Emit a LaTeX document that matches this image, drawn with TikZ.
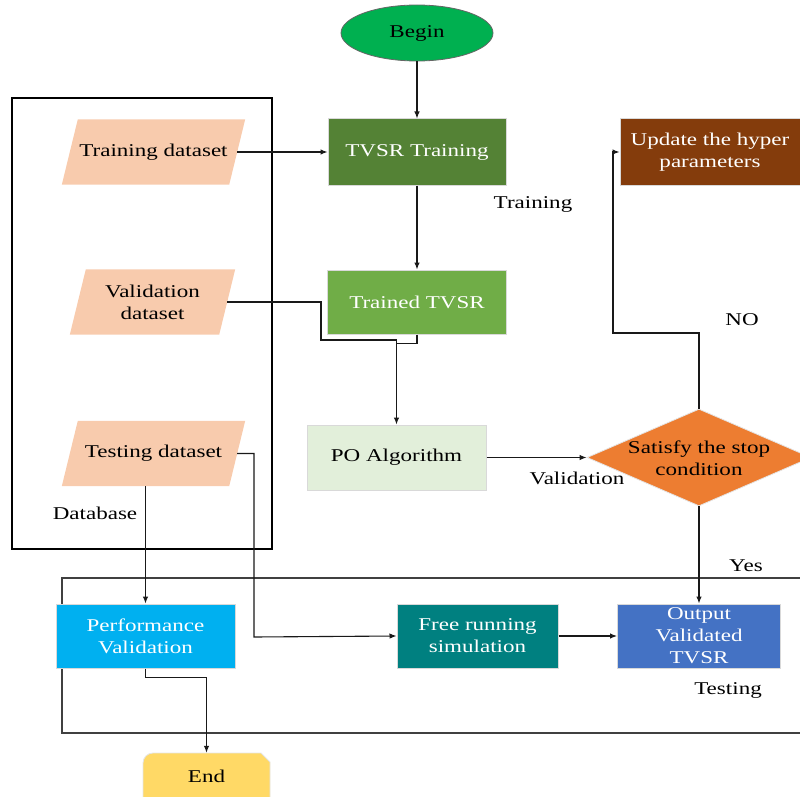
\documentclass[tikz,border=0pt]{standalone}
\usepackage{fontspec}
\setmainfont{Liberation Serif}[FakeStretch=1.28]
\usetikzlibrary{arrows.meta,shapes.geometric}
\definecolor{dkgreen}{HTML}{548235}
\definecolor{mgreen}{HTML}{70AD47}
\definecolor{lgreen}{HTML}{E2EFDA}
\definecolor{brownc}{HTML}{843C0C}
\definecolor{orangec}{HTML}{ED7D31}
\definecolor{peach}{HTML}{F8CBAD}
\definecolor{skyc}{HTML}{00B0F0}
\definecolor{tealc}{HTML}{008080}
\definecolor{bluec}{HTML}{4472C4}
\definecolor{yellowc}{HTML}{FFD966}
\definecolor{beginc}{HTML}{00B050}
\begin{document}
\begin{tikzpicture}[x=1pt,y=-1pt,
  font=\fontsize{18}{22}\selectfont,
  box/.style={rectangle, draw=black!15, line width=1pt, align=center, inner sep=0pt},
  dat/.style={rectangle, align=center, inner sep=0pt, minimum height=65pt},
  conn/.style={draw=black!90, line width=1.1pt},
  arr/.style={conn, -{Latex[length=7pt,width=5.5pt]}},
  lab/.style={inner sep=0pt, anchor=center}
]
\useasboundingbox (0,0) rectangle (800,797);
\clip (0,0) rectangle (800,797);

% frames
\draw[black, line width=1.1pt] (12,98) rectangle (272,549);
\draw[black!75, line width=1.1pt] (62,733) rectangle (815,578);

% data parallelograms
\node[dat, minimum width=167pt] (trd) at (153.5,152) {};
\node[dat, minimum width=149pt] (vad) at (152.5,302) {};
\node[dat, minimum width=167pt] (ted) at (153.5,453.5) {};
\foreach \n in {trd,vad,ted}{
  \fill[peach] ([xshift=-8pt]\n.south west) -- ([xshift=8pt]\n.north west) -- ([xshift=8pt]\n.north east) -- ([xshift=-8pt]\n.south east) -- cycle;
}
\node[dat, minimum width=167pt] (trdt) at (trd) {Training dataset};
\node[dat, minimum width=149pt] (vadt) at (vad) {Validation\\dataset};
\node[dat, minimum width=167pt] (tedt) at (ted) {Testing dataset};

% process nodes
\node[ellipse, fill=beginc, draw=black!60, line width=0.8pt, minimum width=152pt, minimum height=56pt, inner sep=0pt] (begin) at (417,33) {Begin};
\node[box, fill=dkgreen, text=white, minimum width=178pt, minimum height=66pt] (tvsrt) at (417,152) {TVSR Training};
\node[box, fill=mgreen, text=white, minimum width=179pt, minimum height=64pt] (trained) at (417,302) {Trained TVSR};
\node[box, fill=lgreen, minimum width=179pt, minimum height=65pt] (po) at (396.5,457.5) {PO Algorithm};
\node[box, fill=brownc, text=white, minimum width=180pt, minimum height=66pt] (upd) at (710,152) {Update the hyper\\parameters};
\node[diamond, fill=orangec, draw=black!10, line width=0.8pt, minimum width=224pt, minimum height=97pt, inner sep=0pt] (stop) at (699,457.5) {};
\node[lab, align=center] (stoptext) at (699,458) {Satisfy the stop\\condition};
\node[box, fill=skyc, text=white, minimum width=179pt, minimum height=64pt] (perf) at (145.5,636) {Performance\\Validation};
\node[box, fill=tealc, text=white, minimum width=161pt, minimum height=64pt] (free) at (477.5,636) {Free running\\simulation};
\node[box, fill=bluec, text=white, minimum width=163pt, minimum height=64pt] (out) at (699,636) {Output\\Validated\\TVSR};

% End shape
\fill[yellowc, draw=black!10, line width=0.8pt] (143,800) [rounded corners=10pt]-- (143,753) [sharp corners]-- (261,753) -- (270,762) -- (270,800) -- cycle;
\node[inner sep=0pt, minimum width=127pt, minimum height=46pt] (end) at (206.5,776) {End};

% labels
\node[lab] (ltrain) at (533,204) {Training};
\node[lab] (lval) at (577,478) {Validation};
\node[lab] (lno) at (742,320) {NO};
\node[lab] (lyes) at (746,566) {Yes};
\node[lab] (ltest) at (728,690) {Testing};
\node[lab] (ldb) at (95,513) {Database};

% connectors
\coordinate (j1) at (321,340);
\coordinate (n1) at (613,333);
\coordinate (t1) at (254,637);
\draw[arr] (begin.south) -- (tvsrt.north);
\draw[arr] (trd.east) -- (tvsrt.west);
\draw[arr] (tvsrt.south) -- (trained.north);
\draw[conn] (trained.south) -- ++(0,9) -- ++(-20.5,0);
\draw[arr] (vad.east) -| (j1) -| (po.north);
\draw[arr] (po.east) -- (stop.west);
\draw[arr] (stop.north) |- (n1) |- (upd.west);
\draw[arr] (stop.south) -- (out.north);
\draw[arr] (ted.east) -| (t1) -- (free.west);
\draw[arr] ([xshift=-8pt]ted.south) -- (perf.north);
\draw[arr] (free.east) -- (out.west);
\draw[arr] (perf.south) -- ++(0,9) -| (end.north);
\end{tikzpicture}
\end{document}
